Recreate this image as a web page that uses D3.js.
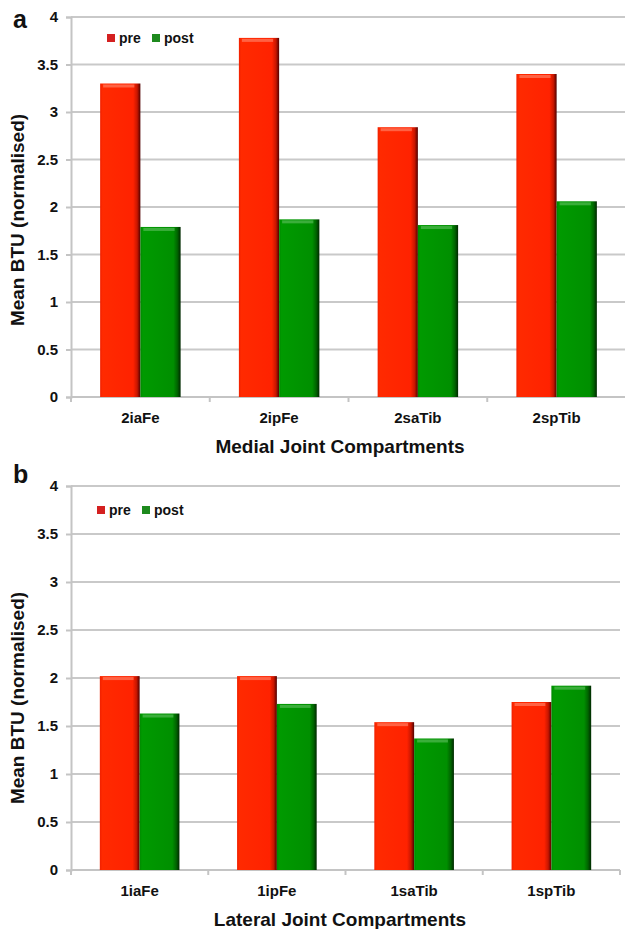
<!DOCTYPE html>
<html>
<head>
<meta charset="utf-8">
<script src="https://cdn.jsdelivr.net/npm/d3@7"></script>
<style>
  body { margin: 0; background: #fff; }
  svg { display: block; font-family: "Liberation Sans", Arial, sans-serif; }
</style>
</head>
<body>
<div id="chart"></div>
<script>
// values
var series = ["pre", "post"];
var yTicks = [0, 0.5, 1, 1.5, 2, 2.5, 3, 3.5, 4];

var medialCats = ["2iaFe", "2ipFe", "2saTib", "2spTib"];
var medialPre  = [3.30, 3.78, 2.84, 3.40];
var medialPost = [1.79, 1.87, 1.81, 2.06];

var lateralCats = ["1iaFe", "1ipFe", "1saTib", "1spTib"];
var lateralPre  = [2.02, 2.02, 1.54, 1.75];
var lateralPost = [1.63, 1.73, 1.37, 1.92];

var width = 625, height = 929;

var svg = d3.select("#chart")
  .append("svg")
  .attr("width", width)
  .attr("height", height);

// gradients for the bevelled bars
var defs = svg.append("defs");
function barGrad(id, stops) {
  var g = defs.append("linearGradient").attr("id", id)
    .attr("x1", "0%").attr("x2", "100%").attr("y1", "0%").attr("y2", "0%");
  stops.forEach(function(s) {
    g.append("stop").attr("offset", s[0]).attr("stop-color", s[1]);
  });
}
barGrad("gradPre",  [["0%", "#f02000"], ["6%", "#ff2a00"], ["82%", "#ff2200"], ["92%", "#c81600"], ["100%", "#500000"]]);
barGrad("gradPost", [["0%", "#008800"], ["6%", "#009a00"], ["82%", "#008f00"], ["92%", "#006400"], ["100%", "#002800"]]);
var fills = { pre: "url(#gradPre)", post: "url(#gradPost)" };
var legendFill = { pre: "#d42020", post: "#1e8a1e" };
var highlight = { pre: "#ff8a70", post: "#60c060" };

function drawPanel(cfg) {
  var g = svg.append("g");

  var x0 = d3.scaleBand()
    .domain(cfg.cats)
    .range([cfg.left, cfg.right])
    .paddingInner(0.42)
    .paddingOuter(0.21);
  var x1 = d3.scaleBand()
    .domain(series)
    .range([0, x0.bandwidth()]);
  var y = d3.scaleLinear()
    .domain([0, 4])
    .range([cfg.bottom, cfg.top]);

  // gridlines
  g.selectAll(".grid")
    .data(yTicks.slice(1))
    .enter().append("line")
    .attr("x1", cfg.left).attr("x2", cfg.gridRight)
    .attr("y1", function(d) { return y(d); })
    .attr("y2", function(d) { return y(d); })
    .attr("stroke", "#c9c9c9")
    .attr("stroke-width", 2);

  // y axis
  var yAxis = g.append("g")
    .attr("transform", "translate(" + cfg.left + ",0)")
    .call(d3.axisLeft(y).tickValues(yTicks).tickSize(5).tickPadding(8)
      .tickFormat(function(d) { return d; }));
  yAxis.select(".domain").attr("stroke", "#c4c4c4").attr("stroke-width", 2);
  yAxis.selectAll(".tick line").attr("stroke", "#c4c4c4").attr("stroke-width", 2);
  yAxis.selectAll(".tick text")
    .attr("font-size", 15).attr("font-weight", "bold").attr("fill", "#111")
    .attr("font-family", "Liberation Sans, Arial, sans-serif");

  // x axis
  var xAxis = g.append("g")
    .attr("transform", "translate(0," + cfg.bottom + ")")
    .call(d3.axisBottom(x0).tickSize(0).tickPadding(15).tickSizeOuter(0));
  xAxis.select(".domain").attr("stroke", "#c4c4c4").attr("stroke-width", 2)
    .attr("d", "M" + cfg.left + ",0H" + cfg.gridRight);
  xAxis.selectAll(".tick text")
    .attr("font-size", 15).attr("font-weight", "bold").attr("fill", "#111")
    .attr("font-family", "Liberation Sans, Arial, sans-serif");
  // category separators
  var step = x0.step();
  g.selectAll(".sep")
    .data(d3.range(cfg.cats.length + 1))
    .enter().append("line")
    .attr("x1", function(i) { return cfg.left + i * step; })
    .attr("x2", function(i) { return cfg.left + i * step; })
    .attr("y1", cfg.bottom).attr("y2", cfg.bottom + 5)
    .attr("stroke", "#c4c4c4").attr("stroke-width", 2);

  // bars
  var rows = cfg.cats.map(function(c, i) {
    return { cat: c, pre: cfg.pre[i], post: cfg.post[i] };
  });
  var groups = g.selectAll(".grp")
    .data(rows)
    .enter().append("g")
    .attr("transform", function(d) { return "translate(" + x0(d.cat) + ",0)"; });
  var bars = groups.selectAll(".bar")
    .data(function(d) { return series.map(function(s) { return { key: s, value: d[s] }; }); })
    .enter();
  bars.append("rect")
    .attr("x", function(d) { return x1(d.key); })
    .attr("width", x1.bandwidth())
    .attr("y", function(d) { return y(d.value); })
    .attr("height", function(d) { return y(0) - y(d.value); })
    .attr("fill", function(d) { return fills[d.key]; });
  bars.append("rect")
    .attr("x", function(d) { return x1(d.key) + 3; })
    .attr("width", x1.bandwidth() - 9)
    .attr("y", function(d) { return y(d.value) + 1; })
    .attr("height", 3)
    .attr("fill", function(d) { return highlight[d.key]; })
    .attr("opacity", 0.6);

  // legend
  var lg = g.append("g").attr("transform", "translate(" + cfg.legendX + "," + cfg.legendY + ")");
  var legendOffsets = [0, 45];
  series.forEach(function(s, i) {
    lg.append("rect")
      .attr("x", legendOffsets[i]).attr("y", -9)
      .attr("width", 8).attr("height", 8)
      .attr("fill", legendFill[s]);
    lg.append("text")
      .attr("x", legendOffsets[i] + 12).attr("y", 0)
      .attr("font-size", 14).attr("font-weight", "bold").attr("fill", "#111")
      .text(s);
  });

  // axis titles and panel letter
  g.append("text")
    .attr("x", cfg.xTitleX)
    .attr("y", cfg.xTitleY)
    .attr("text-anchor", "middle")
    .attr("font-size", 19).attr("font-weight", "bold").attr("fill", "#111")
    .text(cfg.xTitle);
  g.append("text")
    .attr("transform", "translate(24," + cfg.yTitleY + ") rotate(-90)")
    .attr("text-anchor", "middle")
    .attr("font-size", 19).attr("font-weight", "bold").attr("fill", "#111")
    .text("Mean BTU (normalised)");
  g.append("text")
    .attr("x", 13).attr("y", cfg.letterY)
    .attr("font-size", 25).attr("font-weight", "bold").attr("fill", "#111")
    .text(cfg.letter);
}

drawPanel({
  cats: medialCats, pre: medialPre, post: medialPost,
  left: 71, right: 626, gridRight: 625, top: 17, bottom: 397,
  legendX: 107, legendY: 43, xTitle: "Medial Joint Compartments", xTitleX: 340, xTitleY: 453,
  yTitleY: 220, letter: "a", letterY: 28
});
drawPanel({
  cats: lateralCats, pre: lateralPre, post: lateralPost,
  left: 71, right: 620, gridRight: 620, top: 486, bottom: 870,
  legendX: 97, legendY: 515, xTitle: "Lateral Joint Compartments", xTitleX: 340, xTitleY: 926,
  yTitleY: 698, letter: "b", letterY: 483
});
</script>
</body>
</html>
